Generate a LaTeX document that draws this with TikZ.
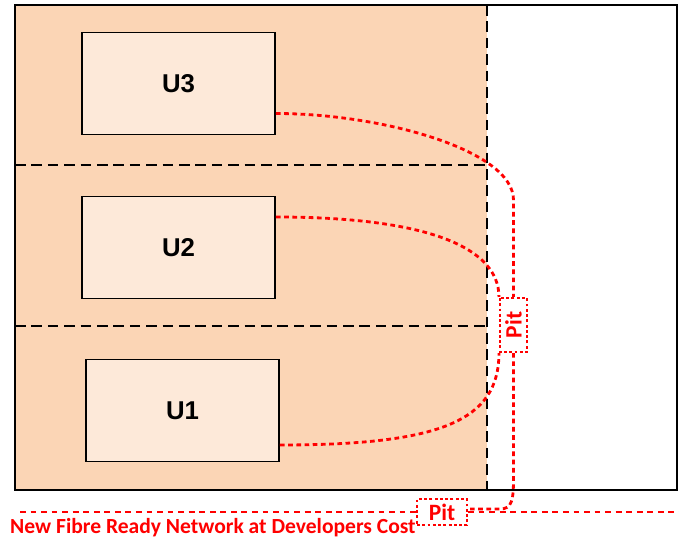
\documentclass[tikz,border=0pt]{standalone}
\usepackage{fontspec}
\setmainfont{Liberation Sans}
\newfontfamily\pitfont{Carlito}
\usetikzlibrary{positioning,calc}
\definecolor{lotfill}{HTML}{FBD5B5}
\definecolor{unitfill}{HTML}{FDE9D9}

\begin{document}
\begin{tikzpicture}[x=0.03cm,y=-0.03cm]
    \tikzstyle{every node}+=[inner sep=0pt]
    \tikzstyle{unit}=[draw=black, fill=unitfill, line width=1.6pt, minimum width=5.79cm, minimum height=3.06cm, font=\fontsize{22}{22}\selectfont\bfseries]
    \tikzstyle{pit}=[draw=red, line width=1.8pt, dash pattern=on 2.5pt off 2pt, text=red, font=\pitfont\fontsize{20}{20}\selectfont\bfseries]
    \tikzstyle{fibre}=[red, line width=2.4pt, dash pattern=on 4pt off 3pt]
    \tikzstyle{netline}=[red, line width=1.8pt, dash pattern=on 5pt off 4pt]
    \tikzstyle{bound}=[black, line width=1.2pt, dash pattern=on 9pt off 5pt]
    \useasboundingbox (0,0) rectangle (679,538);
    \fill [lotfill] (15,5) rectangle (487,490);
    \draw [bound] (487,5) -- (487,490);
    \draw [bound] (15,165) -- (487,165);
    \draw [bound] (15,326) -- (487,326);
    \draw [black, line width=1.6pt] (15,5) rectangle (677,490);
    \node [unit] (u3) at (178.5,83.5) {U3};
    \node [unit] (u2) at (178.5,247.5) {U2};
    \node [unit] (u1) at (182.5,410.5) {U1};
    \node [pit, rotate=90, minimum width=1.62cm, minimum height=0.81cm] (pitv) at (513.5,325) {Pit};
    \node [pit, minimum width=1.5cm, minimum height=0.78cm] (pith) at (442,512) {Pit};
    \coordinate (netl) at (20,512);
    \coordinate (netr) at (679,512);
    \draw [fibre] ($(u3.east)+(0,30)$) .. controls +(105,0) and +(0,-50) .. (pitv.east |- 0,200) -- (pitv.east);
    \draw [fibre] ($(u2.east)+(0,-30.5)$) .. controls +(150,0) and +(0,-50) .. (pitv.north east);
    \draw [fibre] ($(u1.east)+(0,34.5)$) .. controls +(160,0) and +(0,68) .. (pitv.north west);
    \draw [fibre] (pitv.west) -- ($(pitv.west)+(0,125)$) .. controls +(0,22) and +(12,0) .. ($(pith.east)+(32,-3)$) -- ($(pith.east)+(0,-3)$);
    \draw [netline] (netl) -- (pith.west);
    \draw [netline] (pith.east) -- (netr);
    \node [text=red, anchor=base west, font=\pitfont\fontsize{18.4}{18.4}\selectfont\bfseries] (cost) at (10,533) {New Fibre Ready Network at Developers Cost};
\end{tikzpicture}
\end{document}
